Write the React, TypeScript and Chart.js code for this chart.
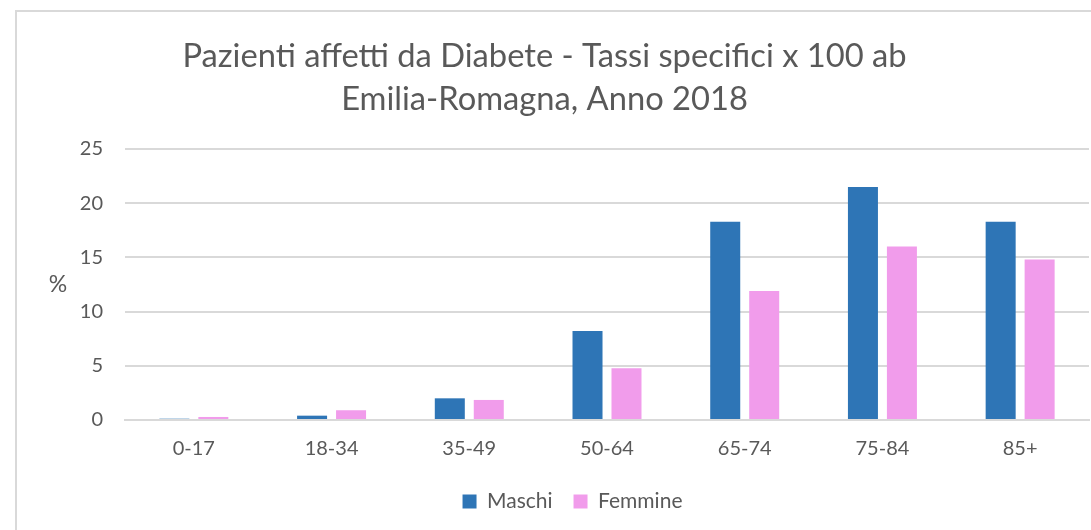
import React, { useEffect, useRef } from "react";
import { Chart, registerables } from "chart.js";

Chart.register(...registerables);

const categories = ["0-17", "18-34", "35-49", "50-64", "65-74", "75-84", "85+"];
const maschi = [0.12, 0.4, 2.0, 8.2, 18.3, 21.5, 18.3];
const femmine = [0.28, 0.9, 1.85, 4.77, 11.9, 16.0, 14.8];
const titleLines = ["Pazienti affetti da Diabete - Tassi specifici x 100 ab", "Emilia-Romagna, Anno 2018"];
const seriesNames = ["Maschi", "Femmine"];

const FONT = "Lato, 'Open Sans', sans-serif";
const TEXT = "#595959";
const GRID = "#D9D9D9";

const frame = {
  id: "frame",
  afterLayout(chart: any) {
    if (chart.legend) {
      chart.legend.left += 28;
      chart.legend.right += 28;
    }
  },
  beforeDraw(chart: any) {
    const { ctx } = chart;
    ctx.save();
    ctx.fillStyle = "#ffffff";
    ctx.fillRect(0, 0, chart.width, chart.height);
    ctx.strokeStyle = GRID;
    ctx.lineWidth = 2;
    ctx.beginPath();
    ctx.moveTo(16, chart.height);
    ctx.lineTo(16, 11);
    ctx.lineTo(chart.width, 11);
    ctx.stroke();
    ctx.restore();
  },
  afterDraw(chart: any) {
    const { ctx, chartArea } = chart;
    ctx.save();
    ctx.fillStyle = TEXT;
    ctx.font = `23px ${FONT}`;
    ctx.textAlign = "center";
    ctx.textBaseline = "middle";
    ctx.fillText("%", 58, (chartArea.top + chartArea.bottom) / 2);
    ctx.restore();
  },
};

export default function App() {
  const ref = useRef<HTMLCanvasElement>(null);
  useEffect(() => {
    document.body.style.margin = "0";
    const chart = new Chart(ref.current as HTMLCanvasElement, {
      type: "bar",
      data: {
        labels: categories,
        datasets: [
          {
            label: seriesNames[0],
            data: maschi,
            backgroundColor: "#2E75B6",
            categoryPercentage: 0.566,
            barPercentage: 0.77,
          },
          {
            label: seriesNames[1],
            data: femmine,
            backgroundColor: "#F19CEB",
            categoryPercentage: 0.566,
            barPercentage: 0.77,
          },
        ],
      },
      options: {
        animation: false,
        responsive: false,
        layout: { padding: { top: 35, right: 2, bottom: 8, left: 0 } },
        plugins: {
          title: {
            display: true,
            text: titleLines,
            color: TEXT,
            font: { family: FONT, size: 32.7, weight: "normal", lineHeight: 1.315 },
            padding: { top: 0, bottom: 28 },
          },
          legend: {
            position: "bottom",
            labels: {
              color: TEXT,
              font: { family: FONT, size: 21 },
              boxWidth: 14,
              boxHeight: 14,
              padding: 21,
            },
          },
          tooltip: { enabled: false },
        },
        scales: {
          x: {
            grid: { display: false, drawTicks: false },
            border: { display: true, color: GRID, width: 2 },
            ticks: { color: TEXT, font: { family: FONT, size: 20 }, padding: 17 },
            afterFit(scale: any) {
              scale.height = 50;
            },
          },
          y: {
            min: 0,
            max: 25,
            grid: { color: GRID, lineWidth: 2, drawTicks: false },
            border: { display: false },
            ticks: { stepSize: 5, color: TEXT, font: { family: FONT, size: 20 }, padding: 22 },
            afterFit(scale: any) {
              scale.width = 125;
            },
          },
        },
      },
      plugins: [frame],
    });
    return () => chart.destroy();
  }, []);
  return <canvas ref={ref} width={1091} height={530} style={{ display: "block" }} />;
}
